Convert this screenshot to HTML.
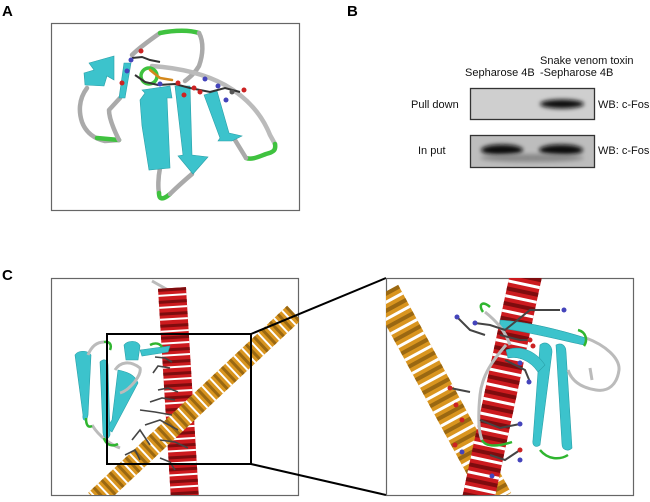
<!DOCTYPE html>
<html><head><meta charset="utf-8"><style>
html,body{margin:0;padding:0;background:#fff;}
svg{display:block;}
text{font-family:"Liberation Sans",Arial,sans-serif;}
</style></head><body>
<svg width="650" height="502" viewBox="0 0 650 502" xmlns="http://www.w3.org/2000/svg">
<defs>
<filter id="bl" x="-50%" y="-50%" width="200%" height="200%"><feGaussianBlur stdDeviation="2.2"/></filter>
<clipPath id="cl"><rect x="52" y="278" width="247" height="217"/></clipPath>
<clipPath id="cr"><rect x="386" y="278" width="248" height="217"/></clipPath>
</defs>

<!-- labels -->
<text x="2" y="16" font-size="15" font-weight="bold">A</text>
<text x="347" y="16" font-size="15" font-weight="bold">B</text>
<text x="2" y="280" font-size="15" font-weight="bold">C</text>

<!-- Panel A -->
<rect x="51.5" y="23.5" width="248" height="187" fill="#fff" stroke="#666" stroke-width="1.2"/>
<g fill="none" stroke-linecap="round" stroke-linejoin="round">
 <path d="M87,88 C78,100 79,113 82,122 C86,133 95,139 105,141 L119,140" stroke="#aaa" stroke-width="4.5"/>
 <path d="M97,138 L119,140" stroke="#3fc23f" stroke-width="4.5"/>
 <path d="M119,140 C114,130 109,118 109,110 L120,98" stroke="#aaa" stroke-width="4.5"/>
 <path d="M132,55 C140,47 150,40 160,33" stroke="#aaa" stroke-width="4.5"/>
 <path d="M160,33 C175,30 190,30 199,33" stroke="#3fc23f" stroke-width="4.5"/>
 <path d="M199,33 C204,42 203,55 199,66 C195,73 190,77 185,81" stroke="#aaa" stroke-width="4.5"/>
 <path d="M152,66 C180,68 205,74 225,85 C248,98 262,115 270,135 L275,144" stroke="#bbb" stroke-width="4.5"/>
 <path d="M275,144 C276,150 274,152 266,154 C258,157 252,160 246,158" stroke="#3fc23f" stroke-width="4.5"/>
 <path d="M246,158 L235,140" stroke="#aaa" stroke-width="4.5"/>
 <path d="M160,168 C158,178 158,188 159,193" stroke="#aaa" stroke-width="4.5"/>
 <path d="M159,193 C159,200 163,200 170,194" stroke="#3fc23f" stroke-width="4.5"/>
 <path d="M170,194 C178,186 185,180 192,174" stroke="#aaa" stroke-width="4.5"/>
 <circle cx="149" cy="76" r="8" stroke="#3fc23f" stroke-width="3.5"/>
 <path d="M150,70 L160,78 L172,80" stroke="#d4881c" stroke-width="2.5"/>
</g>
<g fill="#3cc3cc" stroke="#2aa0a8" stroke-width="0.6">
 <polygon points="84,73 94,70 89,63 114,56 114,80 107,76 104,86 85,85"/>
 <polygon points="124,63 131,63 125,98 119,98"/>
 <polygon points="142,90 170,86 172,98 167,98 170,168 149,170 142,126 140,100 145,93"/>
 <polygon points="175,86 190,86 192,155 208,157 193,174 178,156 183,155"/>
 <polygon points="204,95 217,91 229,133 242,136 232,141 218,141 220,138"/>
</g>
<g stroke="#333" stroke-width="2" fill="none">
 <path d="M132,58 L142,57 L150,60 L160,62"/>
 <path d="M135,75 L145,82 L158,85 L175,84 L190,88 L210,92 L225,88 L240,92"/>
</g>
<g>
 <circle cx="141" cy="51" r="2.5" fill="#c22"/><circle cx="131" cy="60" r="2.5" fill="#44b"/>
 <circle cx="127" cy="71" r="2.5" fill="#44b"/><circle cx="122" cy="83" r="2.5" fill="#c22"/>
 <circle cx="160" cy="84" r="2.5" fill="#44b"/><circle cx="178" cy="83" r="2.5" fill="#c22"/>
 <circle cx="194" cy="88" r="2.5" fill="#c22"/><circle cx="205" cy="79" r="2.5" fill="#44b"/>
 <circle cx="218" cy="86" r="2.5" fill="#44b"/><circle cx="244" cy="90" r="2.5" fill="#c22"/>
 <circle cx="232" cy="92" r="2.5" fill="#555"/><circle cx="226" cy="100" r="2.5" fill="#44b"/>
 <circle cx="200" cy="92" r="2.5" fill="#c22"/><circle cx="184" cy="95" r="2.5" fill="#c22"/>
</g>

<!-- Panel B -->
<g font-size="11" fill="#111">
 <text x="540" y="64">Snake venom  toxin</text>
 <text x="540" y="76">-Sepharose  4B</text>
 <text x="465" y="76">Sepharose  4B</text>
 <text x="411" y="108">Pull down</text>
 <text x="418" y="154">In  put</text>
 <text x="598" y="108">WB: c-Fos</text>
 <text x="598" y="154">WB: c-Fos</text>
</g>
<rect x="470.5" y="88.5" width="124" height="31" fill="#cfcfcf" stroke="#333" stroke-width="1.3"/>
<ellipse cx="562" cy="104" rx="22" ry="4.5" fill="#111" filter="url(#bl)"/>
<rect x="470.5" y="135.5" width="124" height="32" fill="#bdbdbd" stroke="#333" stroke-width="1.3"/>
<ellipse cx="502" cy="150" rx="21" ry="5.5" fill="#080808" filter="url(#bl)"/>
<ellipse cx="561" cy="150" rx="22" ry="5.5" fill="#080808" filter="url(#bl)"/>
<ellipse cx="532" cy="158" rx="52" ry="4" fill="#888" filter="url(#bl)"/>

<!-- Panel C left -->
<rect x="51.5" y="278.5" width="247" height="217" fill="#fff" stroke="#666" stroke-width="1.2"/>
<g clip-path="url(#cl)">
 <path d="M152,281 L168,290" stroke="#bbb" stroke-width="3" fill="none"/>
 <line x1="172" y1="288" x2="185" y2="500" stroke="#cc1a1e" stroke-width="28"/>
 <line x1="172" y1="288" x2="185" y2="500" stroke="#7e0c0e" stroke-width="28" stroke-dasharray="3 9"/>
 <line x1="172" y1="288" x2="185" y2="500" stroke="#fff" stroke-width="28" stroke-dasharray="0 6 2 4"/>
 <line x1="294" y1="313" x2="95" y2="500" stroke="#d9951f" stroke-width="20"/>
 <line x1="294" y1="313" x2="95" y2="500" stroke="#9a6812" stroke-width="20" stroke-dasharray="3 8"/>
 <line x1="294" y1="313" x2="95" y2="500" stroke="#fff" stroke-width="20" stroke-dasharray="0 6 2 3"/>
 <g stroke="#444" stroke-width="1.6" fill="none">
  <path d="M155,357 L165,358 L172,362"/><path d="M153,373 L158,366 L170,368"/>
  <path d="M158,390 L168,388 L178,392"/><path d="M150,402 L162,398 L175,400"/>
  <path d="M140,410 L155,412 L172,415"/><path d="M145,425 L160,420 L178,430"/>
  <path d="M132,440 L140,430 L150,445"/><path d="M160,440 L175,442 L188,448"/>
  <path d="M125,455 L135,450 L140,460"/><path d="M160,458 L170,462 L175,470"/>
 </g>
 <g fill="#3cc3cc" stroke="#2aa0a8" stroke-width="0.6">
  <path d="M75,355 C78,350 88,350 91,355 L88,415 C87,422 82,422 83,415 Z"/>
  <path d="M100,362 C104,358 108,360 108,365 L110,435 C108,440 104,440 103,433 Z"/>
  <path d="M118,370 C128,372 135,375 138,383 L112,432 C108,430 108,425 112,420 Z"/>
  <path d="M124,345 C128,340 138,340 140,346 L138,360 L126,360 Z"/>
  <path d="M140,350 L170,346 L168,352 L142,356 Z"/>
 </g>
 <g fill="none" stroke="#bbb" stroke-width="3">
  <path d="M88,355 C92,345 98,342 104,342"/>
  <path d="M115,370 C120,362 130,360 140,368 C142,375 130,390 120,393"/>
  <path d="M92,425 C100,438 112,445 120,448"/>
 </g>
 <g fill="none" stroke="#2fb52f" stroke-width="2.5">
  <path d="M104,342 C110,341 112,345 110,350"/>
  <path d="M150,345 C156,342 160,344 162,347"/>
  <path d="M86,418 C86,425 88,428 92,426"/>
  <path d="M104,438 C106,445 112,447 118,444"/>
 </g>
</g>
<rect x="107" y="334" width="144" height="130" fill="none" stroke="#000" stroke-width="2"/>
<line x1="251" y1="334" x2="386" y2="278" stroke="#000" stroke-width="2"/>
<line x1="251" y1="464" x2="386" y2="495" stroke="#000" stroke-width="2"/>

<!-- Panel C right -->
<rect x="386.5" y="278.5" width="247" height="217" fill="#fff" stroke="#666" stroke-width="1.2"/>
<g clip-path="url(#cr)">
 <line x1="385" y1="292" x2="498" y2="500" stroke="#d9951f" stroke-width="30"/>
 <line x1="385" y1="292" x2="498" y2="500" stroke="#9a6812" stroke-width="30" stroke-dasharray="4 11"/>
 <line x1="385" y1="292" x2="498" y2="500" stroke="#fff" stroke-width="30" stroke-dasharray="0 8 3 4"/>
 <line x1="526" y1="275" x2="478" y2="500" stroke="#cc1a1e" stroke-width="32"/>
 <line x1="526" y1="275" x2="478" y2="500" stroke="#7e0c0e" stroke-width="32" stroke-dasharray="4 11"/>
 <line x1="526" y1="275" x2="478" y2="500" stroke="#fff" stroke-width="32" stroke-dasharray="0 8 3 4"/>
 <g fill="#3cc3cc" stroke="#2aa0a8" stroke-width="0.6">
  <path d="M500,320 C530,322 560,330 586,338 L584,345 C560,340 530,332 500,328 Z"/>
  <path d="M540,345 C546,340 552,345 552,352 L540,445 C536,448 532,446 533,440 Z"/>
  <path d="M556,345 C562,342 566,346 566,352 L572,448 C568,452 562,450 562,444 Z"/>
  <path d="M506,350 C520,345 535,350 545,365 L538,372 C530,360 518,356 508,358 Z"/>
 </g>
 <g fill="none" stroke="#bbb" stroke-width="3">
  <path d="M586,338 C605,345 620,358 619,370 C617,385 608,392 596,390 C583,388 572,382 568,370"/>
  <path d="M506,345 C493,360 482,375 480,395 C478,415 478,430 482,440"/>
  <path d="M485,312 C495,320 505,330 510,345"/>
  <path d="M590,368 L592,380"/>
 </g>
 <g fill="none" stroke="#2fb52f" stroke-width="2.5">
  <path d="M482,440 C486,448 500,446 512,442"/>
  <path d="M540,450 C548,460 560,460 568,455"/>
  <path d="M483,312 C478,305 482,300 490,307"/>
  <path d="M578,330 C586,332 588,340 584,346"/>
 </g>
 <g stroke="#444" stroke-width="2" fill="none">
  <path d="M475,323 L490,325 L505,330 L530,310 L560,310"/>
  <path d="M458,318 L470,330 L485,335"/>
  <path d="M500,335 L520,340 L530,340"/>
  <path d="M505,360 L525,370 L530,382"/>
  <path d="M450,388 L470,392"/>
  <path d="M480,420 L500,428 L520,424"/>
  <path d="M490,455 L505,460 L520,450"/>
 </g>
 <g>
  <circle cx="457" cy="317" r="2.5" fill="#44b"/><circle cx="475" cy="323" r="2.5" fill="#44b"/>
  <circle cx="530" cy="340" r="2.5" fill="#c22"/><circle cx="533" cy="346" r="2.5" fill="#c22"/>
  <circle cx="564" cy="310" r="2.5" fill="#44b"/><circle cx="529" cy="382" r="2.5" fill="#44b"/>
  <circle cx="520" cy="363" r="2.5" fill="#44b"/><circle cx="450" cy="388" r="2.5" fill="#c22"/>
  <circle cx="456" cy="405" r="2.5" fill="#c22"/><circle cx="462" cy="420" r="2.5" fill="#c22"/>
  <circle cx="455" cy="445" r="2.5" fill="#c22"/><circle cx="462" cy="452" r="2.5" fill="#44b"/>
  <circle cx="520" cy="424" r="2.5" fill="#44b"/><circle cx="520" cy="450" r="2.5" fill="#c22"/>
  <circle cx="520" cy="460" r="2.5" fill="#44b"/><circle cx="492" cy="476" r="2.5" fill="#44b"/>
 </g>
</g>
</svg>
</body></html>
